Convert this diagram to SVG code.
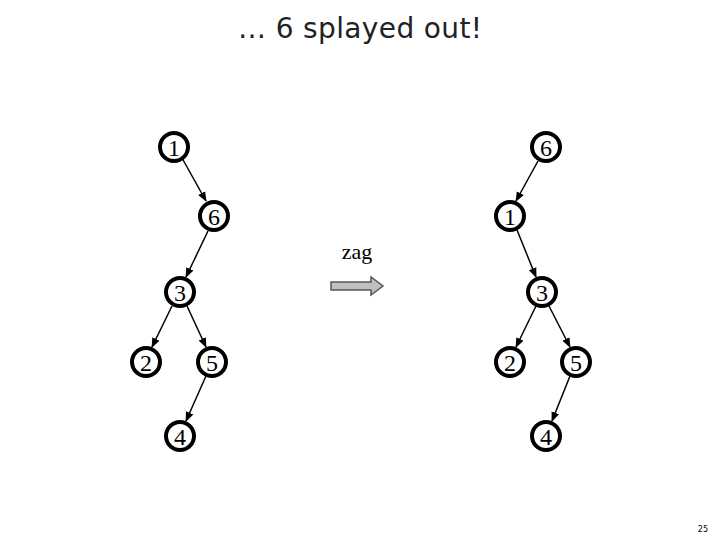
<svg xmlns="http://www.w3.org/2000/svg" width="720" height="540" viewBox="0 0 720 540">
<style>
.n circle{fill:#fff;stroke:#000;stroke-width:4}
.n text{font-family:"Liberation Serif",serif;font-size:24px;text-anchor:middle}
.e line{stroke:#000;stroke-width:1.5;marker-end:url(#a)}
</style>
<defs><marker id="a" markerWidth="10" markerHeight="10" refX="9" refY="5" orient="auto" markerUnits="userSpaceOnUse"><path d="M0,1 L10,5 L0,9 z"/></marker></defs>
<rect width="720" height="540" fill="#fff"/>
<text x="360" y="38" font-family="DejaVu Sans,sans-serif" font-size="28" text-anchor="middle" fill="#222" textLength="244">… 6 splayed out!</text>
<g class="e">
<line x1="182" y1="158" x2="206" y2="201"/>
<line x1="208" y1="231" x2="186" y2="277"/>
<line x1="172" y1="306" x2="152" y2="347"/>
<line x1="187" y1="306" x2="206" y2="347"/>
<line x1="206" y1="376" x2="186" y2="421"/>
<line x1="538" y1="161" x2="516" y2="201"/>
<line x1="517" y1="230" x2="536" y2="277"/>
<line x1="536" y1="306" x2="516" y2="347"/>
<line x1="549" y1="306" x2="570" y2="347"/>
<line x1="570" y1="376" x2="552" y2="421"/>
</g>
<g id="L1" class="n"><circle cx="174" cy="147" r="14"/><text x="174" y="156">1</text></g>
<g id="L6" class="n"><circle cx="214" cy="216" r="14"/><text x="214" y="225">6</text></g>
<g id="L3" class="n"><circle cx="180" cy="292" r="14"/><text x="180" y="301">3</text></g>
<g id="L2" class="n"><circle cx="146" cy="362" r="14"/><text x="146" y="371">2</text></g>
<g id="L5" class="n"><circle cx="212" cy="362" r="14"/><text x="212" y="371">5</text></g>
<g id="L4" class="n"><circle cx="180" cy="436" r="14"/><text x="180" y="445">4</text></g>
<g id="R6" class="n"><circle cx="546" cy="147" r="14"/><text x="546" y="156">6</text></g>
<g id="R1" class="n"><circle cx="510" cy="216" r="14"/><text x="510" y="225">1</text></g>
<g id="R3" class="n"><circle cx="542" cy="292" r="14"/><text x="542" y="301">3</text></g>
<g id="R2" class="n"><circle cx="510" cy="362" r="14"/><text x="510" y="371">2</text></g>
<g id="R5" class="n"><circle cx="576" cy="362" r="14"/><text x="576" y="371">5</text></g>
<g id="R4" class="n"><circle cx="546" cy="436" r="14"/><text x="546" y="445">4</text></g>
<text x="357" y="259" font-family="Liberation Serif,serif" font-size="22" text-anchor="middle">zag</text>
<path d="M331,282 H371 V277 L383,286 L371,295 V290 H331 Z" fill="#c0c0c0" stroke="#555" stroke-width="1.5"/>
<text x="708" y="532" font-family="DejaVu Sans,sans-serif" font-size="8" text-anchor="end">25</text>
</svg>
